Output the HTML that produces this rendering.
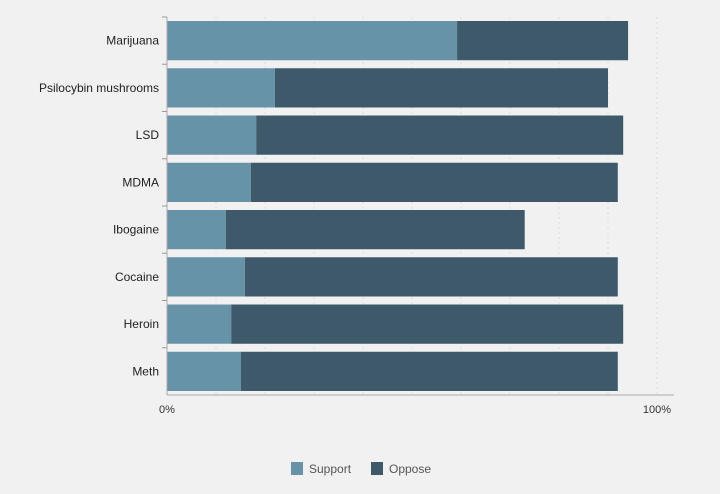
<!DOCTYPE html>
<html><head><meta charset="utf-8"><style>
body{margin:0;background:#f0f1f0;font-family:"Liberation Sans",sans-serif;}
svg{display:block}
</style></head><body>
<svg id="c" width="720" height="494"></svg>
<script>
const categories=["Marijuana","Psilocybin mushrooms","LSD","MDMA","Ibogaine","Cocaine","Heroin","Meth"];
const support=[59.2,22,18.2,17.1,12,15.9,13.1,15.1];
const oppose=[34.9,68,74.9,74.9,61,76.1,80,76.9];
const xTicks=[0,100];
const tickLabels=["0%","100%"];
const svg=document.getElementById('c');
const NS="http://www.w3.org/2000/svg";
const x0=167,x1=657,yTop=17,yBottom=395;
const xs=v=>x0+(x1-x0)*v/100;
const band=(yBottom-yTop)/categories.length;
const ys=i=>yTop+band*i;
function mk(t,a){const e=document.createElementNS(NS,t);for(const k in a)e.setAttribute(k,a[k]);svg.appendChild(e);return e;}
for(let g=10;g<=100;g+=10){
 const l=mk('line',{x1:xs(g),x2:xs(g),y1:yTop,y2:yBottom,stroke:'#dcdedd','stroke-dasharray':'2,3'});
 
 
}
categories.forEach((c,i)=>{
 const y=ys(i)+4,h=band-8;
 const s=mk('rect',{x:xs(0),y:y,width:xs(support[i])-xs(0),height:h,fill:'#6793a8'});
 
 
 const o=mk('rect',{x:xs(support[i]),y:y,width:xs(support[i]+oppose[i])-xs(support[i]),height:h,fill:'#3e5a6a'});
 
 
 const t=mk('text',{x:159,y:ys(i)+band/2+4,'text-anchor':'end','font-size':12,fill:'#222'});
 t.textContent=c;
 
 
 const tk=mk('line',{x1:162,x2:167,y1:ys(i),y2:ys(i),stroke:'#999'});
 
 
});
const ya=mk('line',{x1:167,x2:167,y1:yTop,y2:yBottom,stroke:'#aaa'});


const xa=mk('line',{x1:167,x2:674,y1:yBottom,y2:yBottom,stroke:'#aaa'});


xTicks.forEach((v,i)=>{
 const t=mk('text',{x:xs(v),y:413,'text-anchor':'middle','font-size':11,fill:'#333'});
 t.textContent=tickLabels[i];
 
 
});
const l1=mk('rect',{x:291,y:462,width:12,height:13,fill:'#6793a8'});


const t1=mk('text',{x:309,y:473,'font-size':12,fill:'#555'});t1.textContent='Support';


const l2=mk('rect',{x:371,y:462,width:12,height:13,fill:'#3e5a6a'});


const t2=mk('text',{x:389,y:473,'font-size':12,fill:'#555'});t2.textContent='Oppose';


</script>
</body></html>
